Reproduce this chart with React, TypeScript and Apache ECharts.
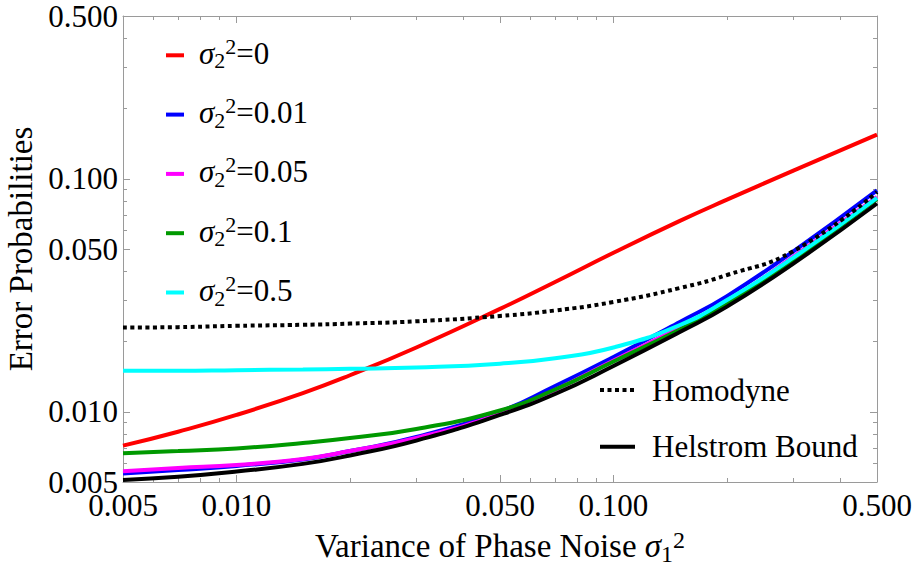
import React, { useEffect, useRef } from "react";
import * as echarts from "echarts";

// ---- data ----
const sigma1Sq = [0.005, 0.007, 0.01, 0.015, 0.02, 0.03, 0.05, 0.07, 0.1, 0.15, 0.2, 0.3, 0.5];

const pe_s0 = [0.00716, 0.00822, 0.0097, 0.01204, 0.01436, 0.01889, 0.02766, 0.03609, 0.04816, 0.066, 0.0814, 0.1084, 0.1549];
const pe_s001 = [0.00544, 0.00563, 0.00586, 0.00625, 0.00679, 0.0078, 0.01004, 0.01291, 0.0172, 0.0243, 0.0314, 0.0488, 0.0892];
const pe_s005 = [0.00556, 0.00574, 0.00592, 0.00628, 0.00679, 0.00772, 0.00979, 0.0124, 0.01662, 0.023, 0.0296, 0.0464, 0.0836];
const pe_s01 = [0.00664, 0.00679, 0.00697, 0.00735, 0.00772, 0.00844, 0.01014, 0.01247, 0.01645, 0.02257, 0.029, 0.045, 0.082];
const pe_s05 = [0.015, 0.015, 0.0151, 0.0152, 0.0153, 0.0155, 0.0161, 0.017, 0.0189, 0.0236, 0.0302, 0.0459, 0.0828];
const pe_homodyne = [0.023, 0.0231, 0.0234, 0.02364, 0.02392, 0.02447, 0.0258, 0.02724, 0.02962, 0.034, 0.03866, 0.049, 0.0878];
const pe_helstrom = [0.0051, 0.00527, 0.00555, 0.00598, 0.0065, 0.00753, 0.0097, 0.01193, 0.01573, 0.022, 0.0283, 0.0433, 0.0784];

const sigma2Labels = ["0", "0.01", "0.05", "0.1", "0.5"];
const sigma2Colors = ["#ff0000", "#0000ff", "#ff00ff", "#009900", "#00ffff"];

const majorTicks = [0.005, 0.01, 0.05, 0.1, 0.5];
const minorTicks = [0.006, 0.007, 0.008, 0.009, 0.02, 0.03, 0.04, 0.06, 0.07, 0.08, 0.09, 0.2, 0.3, 0.4];

const AXIS_MIN = 0.005;
const AXIS_MAX = 0.5;

const FONT = "'Liberation Serif', 'Times New Roman', serif";
const TICK_COLOR = "#9a9a9a";

const lg = (v: number) => Math.log10(v);

export default function App() {
  const ref = useRef<HTMLDivElement>(null);

  useEffect(() => {
    document.body.style.margin = "0";
    if (!ref.current) return;
    const chart = echarts.init(ref.current, null, { renderer: "svg" });

    const pair = (ys: number[]) => sigma1Sq.map((x, i) => [lg(x), lg(ys[i])]);
    const majorV = majorTicks.map(lg);
    const minorV = minorTicks.map(lg);
    const mn = lg(AXIS_MIN);
    const mx = lg(AXIS_MAX);

    const sigmaSeriesData = [pe_s0, pe_s001, pe_s005, pe_s01, pe_s05];
    const sigmaNames = sigma2Labels.map((l) => "σ2^2=" + l);

    const baseAxis = (position: string, kind: "major" | "minor", withLine: boolean) => ({
      type: "value",
      position,
      min: mn,
      max: mx,
      axisLine: { show: withLine, onZero: false, lineStyle: { color: TICK_COLOR, width: 1 } },
      axisTick: {
        show: true,
        inside: true,
        length: kind === "major" ? 7 : 4,
        customValues: kind === "major" ? majorV : minorV,
        lineStyle: { color: TICK_COLOR, width: 1 },
      },
      axisLabel: { show: false },
      splitLine: { show: false },
    });

    const labelFmt = (v: number) => Math.pow(10, v).toFixed(3);

    const xMain: any = {
      ...baseAxis("bottom", "major", true),
      axisLabel: {
        show: true,
        customValues: majorV,
        formatter: labelFmt,
        fontFamily: FONT,
        fontSize: 31,
        color: "#000",
        margin: 8,
      },
      name: "{t|Variance of Phase Noise }{s|σ}{sub|1}{sup|2}",
      nameLocation: "middle",
      nameGap: 42,
      nameTextStyle: {
        fontFamily: FONT,
        fontSize: 33,
        lineHeight: 33,
        color: "#000",
        rich: {
          t: { fontFamily: FONT, fontSize: 33, lineHeight: 33, verticalAlign: "middle", color: "#000" },
          s: { fontFamily: FONT, fontSize: 33, lineHeight: 33, verticalAlign: "middle", fontStyle: "italic", color: "#000" },
          sub: { fontFamily: FONT, fontSize: 24, lineHeight: 17, padding: [16, 0, 0, 0], verticalAlign: "middle", color: "#000" },
          sup: { fontFamily: FONT, fontSize: 24, lineHeight: 17, padding: [0, 0, 12, 0], verticalAlign: "middle", color: "#000" },
        },
      },
    };

    const yMain: any = {
      ...baseAxis("left", "major", true),
      axisLabel: {
        show: true,
        customValues: majorV,
        formatter: labelFmt,
        fontFamily: FONT,
        fontSize: 31,
        color: "#000",
        margin: 5,
      },
      name: "Error Probabilities",
      nameLocation: "middle",
      nameGap: 78,
      nameTextStyle: { fontFamily: FONT, fontSize: 33, color: "#000" },
    };

    const legendRich = {
      s: { fontFamily: FONT, fontSize: 31, lineHeight: 31, verticalAlign: "middle", fontStyle: "italic", color: "#000" },
      sub: { fontFamily: FONT, fontSize: 22, lineHeight: 15, padding: [15, 0, 0, 0], verticalAlign: "middle", color: "#000" },
      sup: { fontFamily: FONT, fontSize: 22, lineHeight: 15, padding: [0, 0, 14, 0], verticalAlign: "middle", color: "#000" },
      t: { fontFamily: FONT, fontSize: 31, lineHeight: 31, verticalAlign: "middle", color: "#000" },
    };

    const lineBase = {
      type: "line",
      xAxisIndex: 0,
      yAxisIndex: 0,
      symbol: "none",
      showSymbol: false,
      smooth: 0.5,
      emphasis: { disabled: true },
    };

    const series: any[] = sigmaSeriesData.map((ys, i) => ({
      ...lineBase,
      name: sigmaNames[i],
      data: pair(ys),
      lineStyle: { color: sigma2Colors[i], width: 4 },
      itemStyle: { color: sigma2Colors[i] },
    }));
    series.push({
      ...lineBase,
      name: "Homodyne",
      data: pair(pe_homodyne),
      lineStyle: { color: "#000", width: 4, type: [4, 3.5], cap: "butt" },
      itemStyle: { color: "#000" },
    });
    series.push({
      ...lineBase,
      name: "Helstrom Bound",
      data: pair(pe_helstrom),
      lineStyle: { color: "#000", width: 4 },
      itemStyle: { color: "#000" },
    });

    chart.setOption({
      animation: false,
      backgroundColor: "#fff",
      grid: { left: 123, right: 42, top: 16, bottom: 87, containLabel: false, outerBoundsMode: "none" },
      xAxis: [xMain, baseAxis("bottom", "minor", false), baseAxis("top", "major", true), baseAxis("top", "minor", false)],
      yAxis: [yMain, baseAxis("left", "minor", false), baseAxis("right", "major", true), baseAxis("right", "minor", false)],
      legend: [
        {
          data: sigmaNames,
          orient: "vertical",
          left: 164,
          top: 34.8,
          padding: 0,
          itemGap: 21.3,
          itemWidth: 18,
          itemHeight: 4,
          selectedMode: false,
          itemStyle: { opacity: 0 },
          lineStyle: { width: 4 },
          formatter: (name: string) => {
            const i = sigmaNames.indexOf(name);
            return "{s|σ}{sub|2}{sup|2}{t|=" + sigma2Labels[i] + "}";
          },
          textStyle: { fontFamily: FONT, fontSize: 31, lineHeight: 31, color: "#000", padding: [0, 0, 4, 10], rich: legendRich },
        },
        {
          data: ["Homodyne", "Helstrom Bound"],
          orient: "vertical",
          left: 598,
          top: 367.5,
          padding: 0,
          itemGap: 11.7,
          itemWidth: 35,
          itemHeight: 4,
          selectedMode: false,
          itemStyle: { opacity: 0 },
          lineStyle: { width: 4 },
          textStyle: { fontFamily: FONT, fontSize: 31, lineHeight: 31, color: "#000", padding: [0, 0, 14, 12] },
        },
      ],
      series,
    });

    return () => chart.dispose();
  }, []);

  return <div ref={ref} style={{ width: 919, height: 569 }} />;
}
